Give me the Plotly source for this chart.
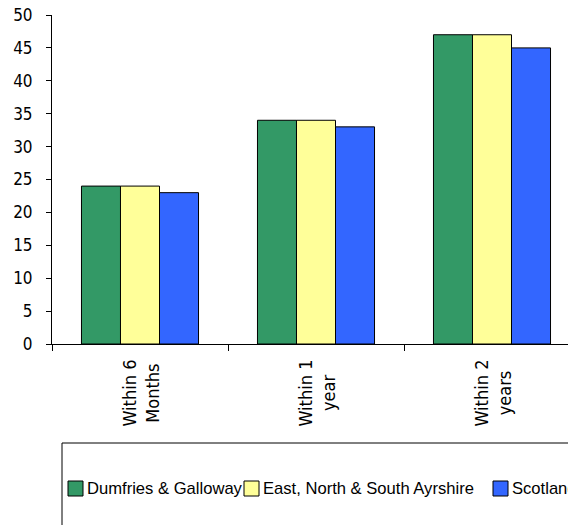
import plotly.graph_objects as go

categories = ["Within 6<br>Months", "Within 1<br>year", "Within 2<br>years"]
series_names = ["Dumfries & Galloway", "East, North & South Ayrshire", "Scotland"]
dumfries = [24, 34, 47]
ayrshire = [24, 34, 47]
scotland = [23, 33, 45]
y_ticks = [0, 5, 10, 15, 20, 25, 30, 35, 40, 45, 50]

colors = ["#339966", "#FFFF99", "#3366FF"]
values = [dumfries, ayrshire, scotland]

W, H = 568, 525
ML, MT, MB = 52, 15, 181
PW = W - ML
PH = H - MT - MB

fig = go.Figure()
for name, vals, col in zip(series_names, values, colors):
    fig.add_trace(go.Bar(
        x=categories, y=vals, name=name,
        marker=dict(color=col, line=dict(color="#000000", width=1)),
        showlegend=False,
    ))

tick_font = dict(family="DejaVu Sans Condensed, Noto Sans", size=17, color="#000000")
cat_font = dict(family="DejaVu Sans Condensed, Noto Sans", size=18, color="#000000")

fig.update_layout(
    width=W, height=H,
    margin=dict(l=ML, r=0, t=MT, b=MB, pad=0),
    paper_bgcolor="white", plot_bgcolor="white",
    barmode="group", bargap=0.335, bargroupgap=0,
    xaxis=dict(
        type="category", range=[-0.5, -0.5 + PW / 176.0],
        showline=True, linecolor="#000000", linewidth=1,
        ticks="outside", ticklen=6, tickcolor="#000000", tickson="boundaries",
        showticklabels=False, showgrid=False, zeroline=False,
    ),
    yaxis=dict(
        range=[0, 50], tickvals=y_ticks,
        showline=True, linecolor="#000000", linewidth=1,
        ticks="outside", ticklen=5, tickcolor="#000000",
        tickfont=tick_font, ticklabelstandoff=10,
        showgrid=False, zeroline=False,
    ),
)

def px_to_paper(px, py):
    return (px - ML) / PW, (MT + PH - py) / PH

# category labels (rotated, centered lines)
_, label_top = px_to_paper(0, 358)
for cat in categories:
    fig.add_annotation(xref="x", yref="paper", x=cat, y=label_top, text=cat,
                       textangle=-90, showarrow=False, align="center",
                       xanchor="center", yanchor="top", font=cat_font)

# legend frame
x0, y0 = px_to_paper(62, 443)
x1, y1 = px_to_paper(600, 560)
fig.add_shape(type="rect", xref="paper", yref="paper", x0=x0, y0=y1, x1=x1, y1=y0,
              line=dict(color="#000000", width=1), fillcolor="rgba(0,0,0,0)")

legend_sq_x = [68, 244, 493]
legend_cy = 488.5
for name, col, sx in zip(series_names, colors, legend_sq_x):
    ax0, ay0 = px_to_paper(sx, legend_cy - 7.5)
    ax1, ay1 = px_to_paper(sx + 15, legend_cy + 7.5)
    fig.add_shape(type="rect", xref="paper", yref="paper", x0=ax0, x1=ax1, y0=ay1, y1=ay0,
                  line=dict(color="#000000", width=1), fillcolor=col)
    tx, ty = px_to_paper(sx + 17, legend_cy)
    fig.add_annotation(xref="paper", yref="paper", x=tx, y=ty, text=name,
                       showarrow=False, xanchor="left", yanchor="middle",
                       font=dict(family="Liberation Sans, Arial", size=16.6, color="#000000"))

fig.write_html(
    "out.html",
    config={"displayModeBar": False},
    post_script="document.body.style.margin='0';document.body.style.overflow='hidden';",
)
